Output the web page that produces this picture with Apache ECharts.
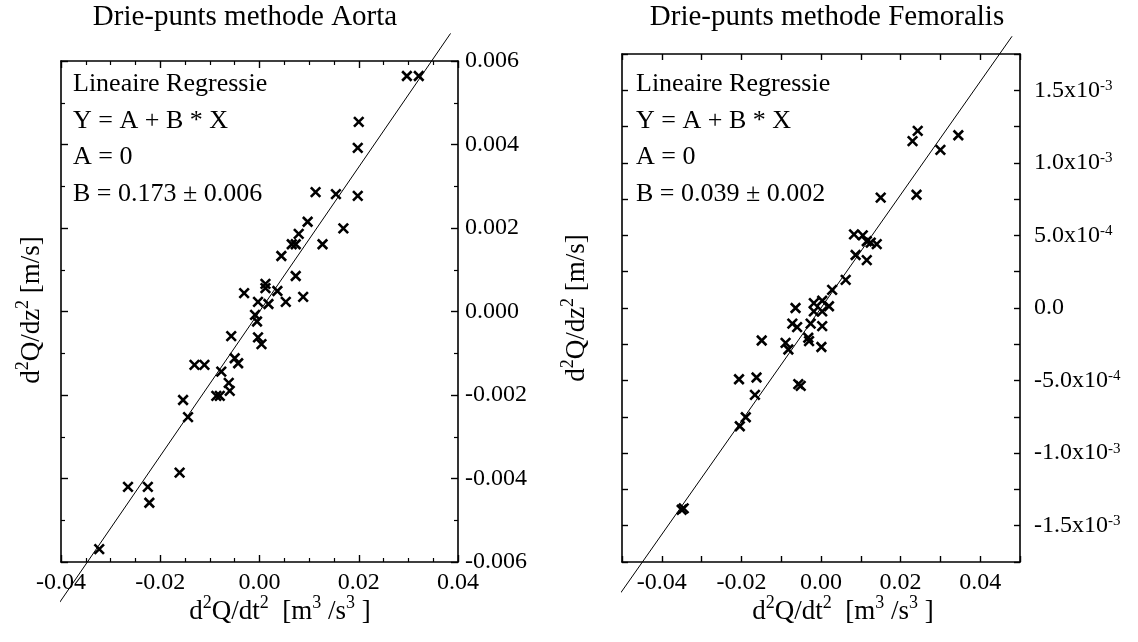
<!DOCTYPE html>
<html><head><meta charset="utf-8">
<script src="https://cdn.jsdelivr.net/npm/echarts@6/dist/echarts.min.js"></script>
<style>html,body{margin:0;padding:0;background:#fff}#c{width:1138px;height:642px}</style>
</head><body><div id="c"></div>
<script>
// ---- data ----
const aortaX = [0.0297,0.0321,0.0200,0.0198,0.0113,0.0154,0.0198,0.0097,0.0169,0.0079,0.0065,0.0073,0.0127,0.0044,0.0073,-0.0031,0.0012,0.0012,0.0036,0.0088,-0.0003,0.0018,0.0053,-0.0009,-0.0005,-0.0057,-0.0003,0.0004,-0.0050,-0.0043,-0.0131,-0.0111,-0.0077,-0.0062,-0.0060,-0.0087,-0.0080,-0.0154,-0.0144,-0.0161,-0.0265,-0.0225,-0.0222,-0.0323];
const aortaY = [0.00564,0.00564,0.00454,0.00392,0.00286,0.00281,0.00277,0.00215,0.00199,0.00186,0.00161,0.00161,0.00161,0.00133,0.00085,0.00044,0.00066,0.00056,0.00049,0.00035,0.00023,0.00018,0.00023,-0.00008,-0.00024,-0.00059,-0.00062,-0.00078,-0.00112,-0.00124,-0.00128,-0.00128,-0.00144,-0.00171,-0.00190,-0.00202,-0.00202,-0.00212,-0.00253,-0.00386,-0.00420,-0.00420,-0.00458,-0.00569];
const femX = [0.0083,0.0087,0.0062,0.0028,-0.0064,-0.0018,0.0003,0.0020,0.0003,-0.0018,-0.0072,-0.0060,-0.0026,0.0003,-0.0032,-0.0030,-0.0149,-0.0089,-0.0082,0.0001,-0.0206,-0.0162,-0.0166,-0.0189,-0.0204,-0.0350,-0.0345,-0.0051,-0.0057,0.0230,0.0243,0.0300,0.0345,0.0150,0.0240,0.0105,0.0115,0.0125,0.0140,0.0115];
const femY = [5.07e-4,3.65e-4,1.94e-4,1.25e-4,0,3.4e-5,5.0e-5,1.2e-5,-2.3e-5,-2.3e-5,-1.08e-4,-1.32e-4,-1.08e-4,-1.25e-4,-2.05e-4,-2.28e-4,-2.24e-4,-2.40e-4,-2.86e-4,-2.69e-4,-4.91e-4,-4.79e-4,-5.98e-4,-7.53e-4,-8.15e-4,-1.39e-3,-1.38e-3,-5.36e-4,-5.25e-4,1.15e-3,1.22e-3,1.09e-3,1.19e-3,7.6e-4,7.8e-4,5.0e-4,4.6e-4,4.5e-4,4.4e-4,3.3e-4];
const aortaSlope = 0.173;
const femSlope = 0.039;
const aortaFitX = [-0.0405, 0.0385];
const femFitX = [-0.0503, 0.048];
const aortaXTickVals = [-0.04,-0.02,0,0.02,0.04];
const aortaXTickLabels = ['-0.04','-0.02','0.00','0.02','0.04'];
const aortaYTickVals = [-0.006,-0.004,-0.002,0,0.002,0.004,0.006];
const aortaYTickLabels = ['-0.006','-0.004','-0.002','0.000','0.002','0.004','0.006'];
const femXTickVals = [-0.04,-0.02,0,0.02,0.04];
const femXTickLabels = ['-0.04','-0.02','0.00','0.02','0.04'];
const femYTickVals = [-0.0015,-0.001,-0.0005,0,0.0005,0.001,0.0015];
const femYTickMant = ['-1.5x10','-1.0x10','-5.0x10','0.0','5.0x10','1.0x10','1.5x10'];
const femYTickExp = ['-3','-3','-4','','-4','-3','-3'];
const titles = ['Drie-punts methode Aorta','Drie-punts methode Femoralis'];
const regrLines = [
  ['Lineaire Regressie','Y = A + B * X','A = 0','B = 0.173 ± 0.006'],
  ['Lineaire Regressie','Y = A + B * X','A = 0','B = 0.039 ± 0.002']
];

// ---- helpers ----
const FONT = 'Liberation Serif';
function lookup(vals, labels, v, tol) {
  for (let i = 0; i < vals.length; i++) if (Math.abs(vals[i] - v) < tol) return i;
  return -1;
}
const zip = (a, b) => a.map((v, i) => [v, b[i]]);
const lineStyleAx = {color:'#000', width:1.6};
function axisBase(extra) {
  return Object.assign({
    type:'value', axisLine:{show:true, onZero:false, lineStyle:lineStyleAx},
    axisTick:{show:true, inside:true, length:7, lineStyle:{color:'#000', width:1.4}},
    splitLine:{show:false},
    axisLabel:{show:false}
  }, extra);
}
const labelStyle = {show:true, color:'#000', fontFamily:FONT, fontSize:24};

const xA = (pos, grid, show) => axisBase({
  gridIndex:grid, position:pos, min:-0.04, max:0.04, interval:0.02,
  minorTick:{show:true, splitNumber:4, length:4, lineStyle:{color:'#000', width:1.2}},
  axisLabel: show ? Object.assign({}, labelStyle, {margin:9, formatter:v=>{const i=lookup(aortaXTickVals,aortaXTickLabels,v,1e-6);return i<0?'':aortaXTickLabels[i];}}) : {show:false}
});
const yA = (pos, grid, show) => axisBase({
  gridIndex:grid, position:pos, min:-0.006, max:0.006, interval:0.002,
  minorTick:{show:true, splitNumber:2, length:4, lineStyle:{color:'#000', width:1.2}},
  axisLabel: show ? Object.assign({}, labelStyle, {margin:7, formatter:v=>{const i=lookup(aortaYTickVals,aortaYTickLabels,v,1e-7);return i<0?'':aortaYTickLabels[i];}}) : {show:false}
});
const xF = (pos, grid, show) => axisBase({
  gridIndex:grid, position:pos, min:-0.05, max:0.05, interval:0.01,
  axisTick:{show:true, inside:true, length:6, lineStyle:{color:'#000', width:1.4}},
  axisLabel: show ? Object.assign({}, labelStyle, {margin:9, formatter:v=>{const i=lookup(femXTickVals,femXTickLabels,v,1e-6);return i<0?'':femXTickLabels[i];}}) : {show:false}
});
const yF = (pos, grid, show) => axisBase({
  gridIndex:grid, position:pos, min:-0.00175, max:0.00175, interval:0.00025,
  axisTick:{show:true, inside:true, length:6, lineStyle:{color:'#000', width:1.4}},
  axisLabel: show ? Object.assign({}, labelStyle, {margin:14,
    formatter:v=>{const i=lookup(femYTickVals,femYTickMant,v,1e-8); if(i<0) return ''; return femYTickExp[i] ? femYTickMant[i]+'{s|'+femYTickExp[i]+'}' : femYTickMant[i];},
    rich:{s:{fontSize:15, fontFamily:FONT, color:'#000', verticalAlign:'top', lineHeight:14}}}) : {show:false}
});

const crossPath = 'path://M0,0L10,10M10,0L0,10';
function scatter(xi, yi, data) {
  return {type:'scatter', xAxisIndex:xi, yAxisIndex:yi, data, symbol:crossPath, symbolSize:9.5,
    itemStyle:{color:'rgba(0,0,0,0)', borderColor:'#000', borderWidth:2.6, opacity:1}, z:3};
}
function fit(xi, yi, xs, slope) {
  return {type:'line', xAxisIndex:xi, yAxisIndex:yi, data: xs.map(x=>[x, slope*x]), symbol:'none', clip:false,
    lineStyle:{color:'#000', width:1}, z:2, silent:true};
}

const graphic = [];
function txt(x, y, text, size, align, rot, rich) {
  graphic.push({type:'text', x, y, rotation: rot||0, style:{text, x:0, y:0, fontFamily:FONT, fontSize:size, fill:'#000', align:align||'center', verticalAlign:'middle', rich: rich||undefined}});
}
txt(245, 17, titles[0], 29);
txt(827, 17, titles[1], 29);
const rowsY = [84, 121, 157, 194];
regrLines[0].forEach((t,i)=>txt(73, rowsY[i], t, 26, 'left'));
regrLines[1].forEach((t,i)=>txt(636, rowsY[i], t, 26, 'left'));
const supRich = {s:{fontSize:18, fontFamily:FONT, fill:'#000', verticalAlign:'top', lineHeight:16}, b:{fontSize:27, fontFamily:FONT, fill:'#000', lineHeight:36}};
txt(32, 310, '{b|d}{s|2}{b|Q/dz}{s|2}{b| [m/s]}', 27, 'center', Math.PI/2, supRich);
txt(577, 308, '{b|d}{s|2}{b|Q/dz}{s|2}{b| [m/s]}', 27, 'center', Math.PI/2, supRich);
txt(280, 612, '{b|d}{s|2}{b|Q/dt}{s|2}{b|  [m}{s|3}{b| /s}{s|3}{b| ]}', 27, 'center', 0, supRich);
txt(843, 612, '{b|d}{s|2}{b|Q/dt}{s|2}{b|  [m}{s|3}{b| /s}{s|3}{b| ]}', 27, 'center', 0, supRich);

const chart = echarts.init(document.getElementById('c'), null, {renderer:'canvas'});
chart.setOption({
  animation:false,
  backgroundColor:'#fff',
  grid:[{left:61, top:61, width:397, height:501}, {left:622, top:54, width:398, height:508}],
  xAxis:[xA('bottom',0,true), xA('top',0,false), xF('bottom',1,true), xF('top',1,false)],
  yAxis:[yA('left',0,false), yA('right',0,true), yF('left',1,false), yF('right',1,true)],
  series:[
    fit(0,0,aortaFitX,aortaSlope), scatter(0,0,zip(aortaX,aortaY)),
    fit(2,2,femFitX,femSlope), scatter(2,2,zip(femX,femY))
  ],
  graphic
});
</script></body></html>
